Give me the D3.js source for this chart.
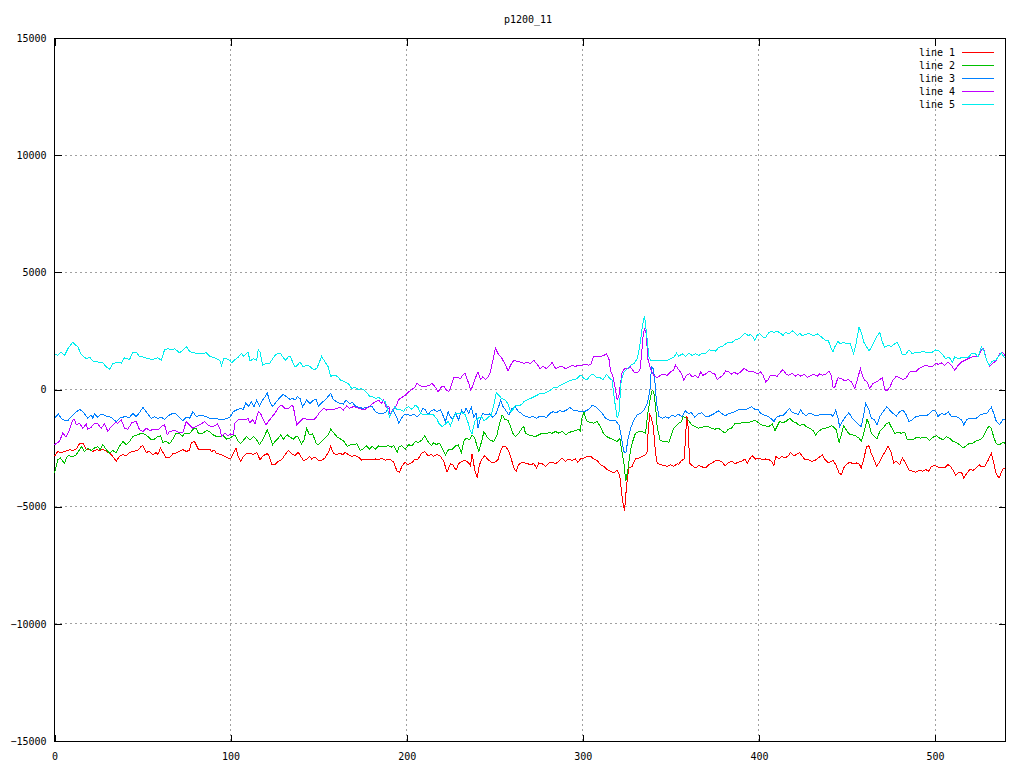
<!DOCTYPE html>
<html><head><meta charset="utf-8">
<script src="https://cdn.jsdelivr.net/npm/d3@7/dist/d3.min.js"></script>
<style>body{margin:0;background:#fff}</style></head>
<body>
<svg id="c" width="1024" height="768"></svg>
<script>
const chartTitle = "p1200_11";
const seriesNames = ["line 1", "line 2", "line 3", "line 4", "line 5"];
const seriesColors = ["#ff0000", "#00c000", "#0080ff", "#c000ff", "#00eeee"];
const xTicks = [0, 100, 200, 300, 400, 500];
const yTicks = [-15000, -10000, -5000, 0, 5000, 10000, 15000];

const line1 = [[0,-2852],[1.9,-2640],[3.8,-2711],[5.7,-2640],[8.5,-2570],[10.4,-2598],[12.3,-2542],[14.2,-2316],[16.1,-2287],[18,-2542],[19.9,-2570],[21.8,-2640],[23.7,-2570],[25.6,-2598],[27.5,-2542],[29.4,-2640],[31.3,-2711],[33.1,-2852],[35,-3064],[36.9,-2852],[38.8,-2782],[40.7,-2824],[42.6,-2683],[44.5,-2640],[47.3,-2598],[49.2,-2429],[50.2,-2400],[52.1,-2683],[54,-2640],[55.9,-2782],[57.8,-2683],[58.7,-2782],[60.2,-2499],[61.6,-2683],[63.4,-2923],[65.3,-2923],[67.2,-2739],[69.1,-2711],[71,-2640],[72.9,-2570],[74.8,-2640],[76.7,-2598],[77.7,-2259],[79.5,-2217],[81.8,-2570],[84.3,-2570],[86.2,-2570],[88.1,-2542],[89,-2640],[90.9,-2598],
[91.7,-2711],[93,-2739],[94.9,-2782],[96.8,-2852],[98.7,-2923],[100,-2965],[101.5,-2739],[103,-2499],[104.4,-2880],[105.7,-3064],[107.2,-2852],[109.1,-2739],[111,-2711],[112.9,-2782],[114.8,-2683],[116.7,-2993],[118.2,-2852],[119.5,-2782],[120.8,-2739],[122,-2852],[123.3,-3205],[125.2,-3205],[127.1,-3064],[129,-2993],[130.9,-2782],[132.8,-2598],[134.7,-2739],[136.6,-2824],[138.4,-2683],[139.8,-2852],[141.3,-3022],[143.2,-2993],[144.7,-2852],[146,-2965],[147.9,-2880],[149.8,-3022],[151.7,-3022],[153.6,-2923],[155.5,-2683],[156.8,-2429],[158.3,-2711],[160.2,-2782],[162.1,-2711],[163.6,-2782],[165,-2683],[166.9,-2782],[168.8,-2852],[170.6,-2824],[172.5,-2880],[174.4,-3022],[176.3,-2965],[178.2,-2993],
[180.3,-2993],[182.2,-2965],[184.1,-2993],[186,-2937],[187.9,-3022],[189.4,-2965],[190.7,-2993],[192.6,-3106],[194.5,-3488],[195.8,-3530],[197.3,-3276],[198.9,-3106],[200.8,-3205],[202.7,-3135],[204.5,-2993],[206.4,-2965],[208.3,-2739],[210.2,-2640],[212.1,-2824],[214,-2782],[215.3,-2852],[217.2,-2782],[219.1,-2852],[221,-3064],[222.9,-3530],[224.8,-3163],[226.1,-3205],[228,-3445],[229.5,-3163],[231.4,-3064],[233.3,-3022],[234.8,-3106],[236.2,-3248],[237.1,-2739],[238.6,-3417],[240,-3770],[241.3,-3205],[242.8,-2965],[244.3,-2824],[246.2,-2993],[248.1,-3106],[250,-3106],[251.9,-2993],[253.2,-2640],[254.5,-2429],[256.1,-2429],[258,-2640],[259.5,-2993],[260.8,-3346],[262.1,-3488],[263.6,-3205],[265.5,-3106],
[268.4,-3163],[270.3,-3205],[272.2,-3163],[273.7,-3346],[275,-3135],[276.9,-3163],[278.8,-3276],[280.7,-3135],[282.6,-3106],[284.5,-3163],[286.4,-3064],[288.3,-2923],[290.2,-3064],[292,-2965],[293.9,-3022],[295.8,-2965],[297.2,-3106],[298.7,-2965],[300.6,-2923],[302.5,-2852],[304.4,-2852],[306.2,-2965],[308.1,-3022],[310,-3205],[311.9,-3276],[313.8,-3417],[315.7,-3488],[317.6,-3558],[319.5,-3445],[321,-3699],[322,-4405],[322.9,-4900],[323.7,-5182],[324.8,-4123],[326.1,-3346],[328,-3276],[329.9,-2965],[331.8,-2923],[333.7,-2852],[335.6,-2782],[336.6,-2640],[337.1,-1723],[338,-1087],[339,-1228],[340,-1581],[341.3,-2711],[342.2,-3135],[344.1,-3205],[346,-3248],[347.9,-3276],[349.8,-3205],[351.7,-3276],[353.6,-3163],
[354.5,-3205],[356,-3022],[357.4,-2993],[358.3,-2146],[358.9,-1158],[359.5,-1228],[360.2,-2287],[360.6,-3135],[362.1,-3248],[364,-3346],[365.9,-3248],[367.8,-3304],[369.7,-3346],[371.6,-3205],[373.5,-3135],[375.4,-3022],[377.3,-3022],[379.2,-3106],[380.7,-3248],[382.6,-3135],[384.5,-3064],[386.4,-3163],[388.3,-3106],[390.2,-3064],[392,-2965],[393.4,-3163],[394.7,-2965],[396.2,-2824],[398.1,-2965],[400,-2923],[401.9,-2993],[403.8,-2965],[405.7,-2993],[407.6,-3106],[408.5,-3248],[409.5,-2852],[411.4,-2965],[412.9,-2852],[414.8,-2923],[416.7,-2824],[418,-2683],[419.9,-2824],[421.2,-2782],[423.1,-2683],[424.6,-2852],[426.1,-2993],[428,-2993],[429.9,-3064],[431.8,-3022],[433.7,-2923],[436,-2782],[437.5,-2993],[439.4,-3135],[441.3,-3064],
[442,-3022],[443.6,-3205],[445.5,-3558],[446.8,-3629],[448.1,-3346],[449.6,-3205],[451.5,-3106],[453.4,-3163],[455.3,-3135],[456.8,-3163],[458.1,-3346],[459.5,-2993],[461,-2457],[462.5,-2400],[463.8,-2739],[465.2,-2965],[466.7,-3276],[468.2,-3135],[469.5,-2923],[471.4,-2683],[473.3,-2429],[475.2,-2711],[476.5,-3135],[478,-3064],[479.9,-3205],[481.4,-2923],[483.3,-3135],[485.2,-3445],[487.1,-3488],[489,-3530],[490.9,-3445],[492.8,-3488],[494.7,-3417],[496.6,-3488],[497.9,-3276],[499.8,-3248],[501.7,-3304],[503.6,-3346],[505.5,-3346],[507.4,-3205],[508.7,-3276],[510.2,-3445],[511.7,-3671],[513.1,-3558],[515,-3530],[516.3,-3770],[518.2,-3558],[519.7,-3417],[521.6,-3445],[523.5,-3346],[525,-3205],[526.3,-3304],[528.2,-3276],[530.1,-3022],[532,-2711],[533.3,-3135],[534.8,-3629],[536.4,-3770],[538.3,-3417],[539.6,-3346]];

const line2 = [[0,-3558],[1.9,-2993],[3.4,-2923],[4.7,-3064],[5.7,-3135],[7.2,-2852],[8.5,-2824],[10.4,-2880],[12.3,-2782],[14.2,-2570],[15.2,-2429],[17,-2640],[18.9,-2499],[20.8,-2598],[22.7,-2499],[24.6,-2429],[25.9,-2570],[27.5,-2358],[29.4,-2570],[31.3,-2711],[33.1,-2598],[35,-2711],[36.9,-2429],[38.8,-2217],[40.7,-2358],[42.6,-2217],[44.5,-2005],[47.3,-1934],[49.2,-1864],[51.1,-1906],[53,-2005],[54.9,-2146],[56.8,-2118],[58.7,-2005],[60.2,-1977],[61.6,-2259],[63.4,-2217],[65.3,-2316],[67.2,-2118],[69.1,-1864],[71,-1864],[72.5,-2005],[73.9,-1864],[76.7,-1892],[78.6,-1694],[80.5,-1652],[81.8,-1892],[84.3,-1864],[86.2,-1751],[88.1,-1793],[90,-1934],
[92,-2005],[93.9,-2005],[95.8,-1977],[97.7,-2118],[99.6,-2076],[102.5,-1934],[104.4,-2217],[105.7,-2316],[107.2,-2175],[109.1,-2005],[111,-2146],[112.9,-2005],[114.8,-2146],[116.3,-2358],[118.2,-2146],[119.5,-1934],[120.8,-1723],[122.3,-2005],[123.9,-2358],[125.2,-2217],[127.1,-2076],[128.4,-1934],[129.9,-2118],[132.2,-1934],[133.7,-2033],[135.6,-2118],[137.1,-2005],[138.4,-2033],[140.3,-2316],[141.7,-2146],[143.2,-1652],[144.7,-1934],[146.6,-1892],[148.5,-2287],[149.8,-2358],[151.7,-2217],[153.6,-2076],[155.5,-1934],[156.8,-1694],[158.7,-1864],[160.6,-2033],[162.5,-2118],[164.4,-2217],[166.3,-2429],[168.2,-2358],[170.1,-2358],[171.6,-2316],[173.5,-2598],[175,-2542],[177.3,-2400],[178.8,-2542],
[180.3,-2429],[182.2,-2542],[184.1,-2400],[186,-2457],[187.9,-2429],[189.8,-2400],[191.3,-2457],[192.6,-2400],[194.5,-2683],[195.8,-2429],[197.3,-2400],[199.2,-2542],[201.1,-2358],[203,-2400],[204.9,-2217],[206.8,-2259],[208.7,-2146],[210.2,-1977],[212.1,-2217],[214,-2400],[215.3,-2259],[216.7,-2358],[218.6,-2287],[220.5,-2570],[222,-2782],[223.9,-2542],[225.8,-2570],[227.3,-2429],[229.2,-2358],[231.1,-2711],[232.4,-2217],[233.7,-2076],[235.6,-2146],[237.1,-1934],[238.6,-2076],[240,-2429],[240.9,-2640],[242.8,-2146],[243.8,-1793],[245.6,-2033],[247,-2146],[249.4,-2217],[251.3,-1934],[252.7,-1440],[254.2,-1087],[255.7,-1271],[257.6,-1327],[258.9,-1581],[260.2,-1864],[261.7,-2005],[263.6,-1864],[265.5,-1652],
[266.5,-1581],[267.4,-1864],[269.3,-1934],[271.2,-1977],[273.1,-2005],[275,-1934],[276.9,-1864],[278.8,-1892],[280.7,-1836],[282.6,-1864],[284.5,-1793],[286.4,-1864],[288.3,-1793],[290.2,-1934],[292,-1836],[293.9,-1793],[295.8,-1751],[297.7,-1694],[298.7,-1793],[299.2,-1299],[300.6,-946],[301.5,-1228],[302.5,-1370],[304.4,-1412],[306.2,-1440],[308.1,-1370],[310,-1581],[311.6,-1864],[313.4,-2005],[315.3,-2076],[317.6,-2146],[319.5,-2217],[321,-2076],[322,-2570],[323.3,-3135],[324.4,-3911],[325.6,-3417],[327.1,-2570],[328.6,-2146],[329.9,-1864],[331.8,-1793],[333.7,-1793],[335.6,-1864],[336.9,-1017],[338.4,-311],[339.4,-28],[340.3,-99],[341.3,-734],[342.2,-1581],[343.8,-2146],[345.6,-2217],[347.5,-2217],[348.9,-2259],[350.2,-1934],[351.7,-1652],[353.6,-1511],
[354.5,-1440],[356,-1370],[356.8,-1158],[358.3,-1186],[360.2,-1327],[361.7,-1511],[363.6,-1581],[365.5,-1652],[367.4,-1610],[369.3,-1581],[371.2,-1581],[373.1,-1652],[375,-1694],[376.9,-1652],[378.8,-1751],[380.7,-1864],[382.6,-1694],[384.5,-1652],[386.4,-1440],[388.3,-1468],[390.2,-1412],[392,-1412],[393.9,-1412],[395.8,-1370],[397.7,-1299],[399.6,-1412],[401.5,-1511],[403.4,-1553],[405.7,-1581],[407.6,-1468],[409.1,-1751],[410.4,-1553],[411.7,-1370],[413.6,-1412],[415.2,-1370],[417.4,-1228],[419.3,-1370],[421.2,-1412],[423.1,-1553],[425,-1468],[426.9,-1581],[428.8,-1652],[430.7,-1751],[432.2,-1934],[433.7,-1793],[435.6,-1694],[437.5,-1652],[439.4,-1610],[441.3,-1553],
[442,-1581],[443.9,-1723],[445.5,-2259],[446.8,-1934],[448.1,-1553],[449.6,-1723],[451.1,-1892],[453,-1934],[454.9,-1977],[456.8,-2076],[458.1,-2217],[459.5,-1864],[461.4,-1271],[462.5,-1468],[463.8,-1864],[465.7,-2005],[467,-2118],[468.6,-1793],[470.5,-1652],[472.3,-1468],[473.9,-1412],[475.2,-1610],[477.1,-1864],[479,-1836],[480.9,-1864],[482.8,-1836],[484.1,-2118],[486,-2146],[487.9,-2118],[489.8,-2033],[491.7,-2076],[493.6,-2033],[495.5,-2076],[497,-2175],[498.9,-2033],[500.8,-1977],[502.7,-2076],[504.5,-2146],[506.4,-2005],[508.3,-2076],[510.2,-2217],[512.1,-2259],[514,-2358],[515.9,-2499],[517.8,-2400],[519.7,-2287],[521.6,-2287],[523.5,-2175],[525.4,-2146],[527.3,-2033],[529.2,-1723],[530.7,-1553],[532,-1652],[533.3,-2033],[534.8,-2316],[536.7,-2358],[538.3,-2259],[539.6,-2287]];

const line3 = [[0,-1228],[2.3,-1045],[3.8,-1228],[5.7,-1327],[7.6,-1327],[9.5,-1158],[11.4,-1017],[14.2,-847],[16.1,-946],[18.9,-1228],[20.8,-1087],[21.8,-1228],[22.7,-1045],[24.6,-1186],[26.5,-1045],[29.4,-1130],[32.2,-1186],[35,-1370],[36.9,-1228],[39.8,-1158],[42.6,-1186],[44.5,-1017],[46.4,-1158],[48.3,-988],[50.2,-762],[52.1,-946],[54.9,-1228],[56.8,-1158],[58.7,-1228],[60.6,-1186],[62.5,-1271],[65.3,-1087],[67.2,-1017],[69.1,-1045],[71,-1186],[72.9,-1327],[74.8,-1186],[76.7,-1228],[78.6,-946],[80.5,-1158],[83.3,-1087],[86.2,-1158],[88.1,-1228],[90.9,-1257],
[92,-1228],[93.9,-1299],[95.8,-1271],[97.7,-1243],[99.6,-1186],[101.5,-946],[103.4,-875],[105.3,-805],[107.2,-847],[108.7,-565],[110,-734],[111.9,-522],[113.3,-734],[114.8,-452],[116.3,-706],[118.2,-452],[119.5,-311],[120.8,-141],[122.3,-522],[123.9,-734],[125.2,-593],[127.1,-424],[128.4,-311],[129.9,-212],[131.8,-311],[133.7,-424],[135.2,-381],[136.6,-452],[137.9,-311],[139.4,-381],[140.9,-734],[143.2,-452],[145.1,-593],[147,-452],[148.5,-424],[149.8,-706],[151.7,-565],[153.6,-452],[155.5,-282],[156.8,-169],[158.3,-424],[160.2,-522],[162.1,-593],[164,-621],[165.5,-452],[167.4,-593],[169.3,-565],[171.2,-734],[173.1,-762],[175,-805],[177.3,-762],[179.2,-706],
[180.3,-706],[182.2,-946],[184.1,-1017],[186,-1017],[187.9,-988],[189.8,-805],[190.7,-1087],[192,-875],[193.2,-1017],[194.5,-1228],[195.5,-1440],[197,-1228],[198.3,-1087],[200.2,-1045],[202.1,-1130],[204,-1045],[205.9,-1158],[207.8,-1017],[209.1,-805],[210.6,-875],[212.1,-1087],[213.4,-946],[215.3,-847],[217.2,-946],[219.1,-875],[220.5,-1087],[222,-1370],[223.5,-946],[224.8,-1158],[226.1,-1271],[227.7,-1017],[229.5,-1299],[231.1,-875],[232.4,-1017],[233.7,-805],[235.2,-1017],[236.7,-762],[238.1,-1186],[239.4,-1017],[240.5,-1652],[241.9,-1228],[243.2,-1017],[245.1,-1087],[247,-1045],[248.9,-1186],[250.8,-1017],[252.3,-706],[253.4,-452],[254.5,-706],[256.1,-875],[258,-1087],[259.8,-805],[261.7,-734],[263.3,-946],[265.2,-1017],
[266.1,-1087],[268,-1158],[269.9,-1186],[271.8,-1158],[273.7,-1228],[275.6,-1130],[277.5,-1158],[279.4,-1186],[281.3,-1017],[283.1,-946],[285,-988],[286.9,-904],[288.8,-946],[290.7,-875],[292.6,-762],[294.5,-875],[296.4,-904],[298.3,-946],[300.2,-946],[302.1,-904],[304,-805],[305.3,-664],[307.2,-734],[309.1,-875],[311,-1017],[312.9,-1228],[314.8,-1299],[316.7,-1327],[318.6,-1327],[320.5,-1511],[321.8,-2005],[323.3,-2640],[324.4,-2711],[325.6,-2146],[327.1,-1652],[329,-1299],[330.9,-1087],[332.8,-1017],[334.7,-875],[336.6,-593],[338.1,-28],[339,960],[340,890],[340.7,537],[341.9,-593],[343.2,-1158],[345.1,-1228],[347,-1158],[348.9,-1228],[350.8,-1087],[352.7,-1158],[354,-1045],
[356.4,-1158],[358,-904],[359.8,-1017],[361.7,-988],[363.6,-1186],[365.5,-1045],[367.4,-988],[369.3,-1130],[371.2,-1158],[373.1,-1087],[375,-1017],[376.9,-904],[378.8,-1017],[380.7,-1130],[382.6,-1045],[384.5,-988],[386.4,-946],[388.3,-875],[390.2,-847],[392,-875],[393.9,-805],[395.8,-734],[397.7,-847],[399.6,-847],[400.9,-1017],[402.8,-1087],[404.7,-1130],[406.6,-1228],[408.5,-1370],[409.8,-1186],[411.7,-1130],[413.6,-1130],[415.2,-988],[417.4,-805],[418.9,-988],[420.8,-1017],[422.3,-1087],[423.7,-875],[425,-1017],[426.9,-1130],[428.4,-1017],[430.3,-1045],[432.2,-1130],[434.1,-1087],[436,-1087],[437.9,-1087],[439.4,-1045],[441.3,-1087],
[442,-1158],[443.6,-875],[444.9,-1228],[445.8,-1581],[447.7,-1327],[449.2,-1158],[451.1,-988],[453,-1228],[454.9,-1370],[456.8,-1511],[458.1,-1581],[459.1,-1228],[460.6,-593],[462.5,-875],[463.8,-1228],[465.7,-1299],[467,-1511],[468.6,-1158],[470.5,-946],[472.7,-734],[474.2,-875],[476.1,-1017],[478,-1130],[479.9,-946],[481.8,-875],[483.7,-1087],[485.2,-1370],[487.1,-1299],[489,-1158],[490.9,-1130],[492.8,-1130],[495.1,-1130],[497,-1017],[498.9,-875],[500.4,-946],[501.7,-1158],[503.6,-1017],[505.5,-1087],[507.4,-946],[509.3,-1158],[511.2,-1158],[513.1,-1186],[515,-1299],[516.3,-1511],[517.8,-1299],[519.7,-1228],[521.6,-1228],[523.5,-1228],[525.4,-1087],[527.3,-1045],[529.2,-1045],[530.7,-875],[532,-762],[533.3,-1017],[534.8,-1370],[536.7,-1511],[538.3,-1299],[539.6,-1271]];

const line4 = [[0,-2358],[2.8,-2217],[4.7,-1864],[6.6,-2033],[8.5,-1723],[10.4,-1299],[11.4,-1271],[12.3,-1511],[14.2,-1440],[16.1,-1652],[18,-1468],[18.9,-1694],[20.8,-1610],[22.7,-1440],[24.6,-1468],[26.5,-1652],[28.4,-1468],[30.3,-1793],[32.2,-1581],[34.5,-1412],[36,-1440],[37.9,-1299],[39.8,-1652],[41.7,-1694],[43.9,-1412],[46.4,-1370],[48.3,-1723],[50.2,-1793],[52.1,-1652],[54,-1751],[56.8,-1694],[58.7,-1723],[60.6,-1581],[62.5,-1511],[64,-1934],[65.3,-1793],[68.2,-1751],[71,-1836],[72.9,-1836],[74.8,-1370],[76.7,-1511],[78.6,-1652],[80.5,-1581],[83.3,-1468],[85.2,-1370],[87.1,-1511],[89,-1581],[90.9,-1553],
[92.4,-1468],[93.9,-1652],[94.9,-2005],[96.8,-1864],[98.7,-1977],[100,-1892],[101.5,-1934],[102.5,-1440],[104.4,-1271],[106.3,-1271],[108.1,-1299],[110,-1243],[111,-1440],[112.3,-1271],[113.8,-1468],[115.7,-946],[117,-1017],[118.6,-1299],[120.1,-1511],[121.4,-1370],[123.3,-1186],[125.2,-1017],[127.1,-762],[129,-664],[130.9,-805],[132.8,-805],[134.7,-664],[135.6,-734],[137.5,-1511],[139.4,-1370],[141.3,-1228],[143.2,-1271],[145.1,-1299],[147,-1299],[148.9,-1158],[150.8,-946],[152.7,-805],[154.5,-875],[156.4,-847],[158.3,-875],[160.2,-805],[162.1,-762],[164,-875],[165.9,-706],[167.4,-805],[169.7,-734],[171.6,-762],[173.5,-819],[175.4,-875],[177.3,-805],[179.2,-706],
[180.3,-621],[182.2,-522],[184.1,-452],[185.6,-593],[186.9,-452],[188.3,-762],[189.8,-706],[190.7,-1087],[192,-875],[193.6,-762],[195.5,-424],[197.3,-339],[199.2,-240],[201.1,-99],[203,0],[204.5,85],[205.9,282],[207.2,184],[209.1,113],[211,141],[212.9,184],[214.4,254],[215.9,141],[217.8,-99],[219.7,113],[221,141],[222.3,0],[223.9,-99],[225.4,184],[226.7,508],[228.6,537],[230.5,466],[231.8,607],[233,706],[234.3,424],[235.2,282],[236.2,-28],[237.1,85],[238.6,424],[240.5,748],[241.9,424],[243.2,537],[244.7,424],[246.2,537],[247.5,748],[248.9,1243],[250.4,1765],[251.9,1525],[254.2,1313],[256.1,1031],[257.6,791],[258.9,1031],[260.8,1243],[262.7,1200],[264.6,1172],[265.9,1130],
[266.5,1101],[268.4,1172],[270.3,1101],[272.2,1243],[274.1,1073],[275.6,890],[277.5,988],[279.4,890],[281.3,1031],[282.6,1172],[284.5,890],[286.4,960],[288.3,988],[290.2,890],[292,960],[293.9,1031],[295.8,988],[297.7,1031],[299.6,1031],[301.5,1073],[303.4,1031],[304.7,1101],[305.9,1384],[307.8,1412],[310,1412],[311.9,1454],[313.4,1525],[314.8,1313],[315.7,819],[317.2,537],[318.6,-28],[319.5,-452],[320.5,-240],[321.4,254],[322.3,748],[323.7,890],[325.2,890],[327.1,960],[329,748],[330.9,706],[332.4,819],[333.4,1525],[334.3,2372],[335,2584],[336,2372],[336.9,1313],[338.4,890],[340.3,607],[342.2,508],[344.1,607],[346,650],[347.9,607],[349.8,748],[351.3,819],[352.7,1031],[354,890],
[356,678],[357.4,395],[358.7,607],[360.6,678],[362.1,537],[363.6,607],[365.5,508],[366.9,748],[368.2,607],[370.1,678],[371.6,791],[373.5,706],[375,650],[376.3,424],[377.7,508],[379.5,607],[381.1,791],[383,748],[384.5,650],[385.8,748],[387.7,650],[389.6,748],[391.5,890],[392.8,847],[394.3,748],[396.2,791],[398.1,706],[399.6,678],[400.9,748],[402.3,607],[403.8,325],[405.3,424],[406.6,607],[408.5,607],[410.4,565],[412.3,748],[413.6,847],[415.5,650],[417,607],[418.9,706],[420.5,565],[422.3,650],[423.7,565],[425.6,650],[427.5,508],[429.4,607],[431.3,650],[433.1,565],[434.5,678],[436,607],[437.9,650],[439.8,791],[441.1,607],[442,113],[443,85],
[444.9,508],[446.8,466],[448.7,367],[450.6,424],[452.5,325],[454.4,42],[456.3,537],[457.6,890],[458.7,607],[460,395],[461.4,325],[462.9,42],[464.8,254],[466.7,325],[468.6,424],[470.1,508],[471.4,0],[472.7,-56],[474.2,85],[476.1,395],[478,565],[479.9,508],[481.8,424],[483.7,508],[485.6,748],[487.5,791],[489,748],[490.9,890],[492.8,960],[494.7,1031],[496.6,988],[498.5,988],[500.4,1130],[501.7,1073],[503.6,1130],[505.5,1031],[507.4,1172],[509.3,1031],[511.2,819],[513.1,1031],[515,1172],[516.9,1243],[518.8,1313],[520.6,1384],[522.5,1412],[524.4,1384],[526.3,1694],[527.7,1737],[529.2,1243],[531.1,988],[533,1130],[534.8,1243],[536.7,1525],[538.3,1596],[539.6,1454]];

const line5 = [[0,1525],[1.9,1454],[3.8,1596],[5.7,1454],[7.6,1737],[10.4,2019],[13.3,1807],[15.2,1497],[18,1313],[19.9,1384],[21.8,1214],[24.6,1172],[27.5,1144],[29.4,960],[31.3,861],[33.1,1101],[36,1172],[37.9,1130],[39.8,1356],[42.6,1271],[44.5,1596],[46.4,1596],[48.3,1412],[50.2,1384],[53,1313],[55.9,1285],[58.7,1356],[60.6,1243],[62.5,1694],[64.4,1737],[66.3,1694],[68.2,1737],[71,1567],[72.9,1666],[74.8,1836],[76.7,1638],[78.6,1567],[80.5,1553],[83.3,1525],[86.2,1567],[88.1,1426],[90.9,1356],
[92,1313],[93.9,1243],[94.9,1031],[96.2,1313],[97.7,1313],[99.6,1243],[100.6,1144],[102.5,1271],[104.4,1384],[106.3,1553],[107.2,1412],[109.1,1553],[110,1567],[111,1214],[112.9,1313],[114.8,1243],[115.7,1694],[116.7,1596],[118.2,1031],[120.1,1101],[122,1101],[123.3,1243],[125.2,1454],[127.1,1553],[128.4,1525],[129.9,1356],[131.4,1243],[132.8,1412],[134.1,1384],[135.2,1172],[136.6,960],[137.9,1031],[139.4,1172],[141.3,960],[143.2,1031],[145.1,988],[147,847],[148.9,890],[150.4,1172],[151.7,1412],[153.6,1172],[155.5,960],[156.8,565],[158.7,607],[160.6,565],[162.5,395],[165,325],[166.9,254],[168.8,42],[170.6,85],[172.5,0],[174.4,42],[176.3,-56],[177.7,-169],[179.2,-311],
[180.3,-282],[182.2,-381],[184.1,-339],[186,-452],[187.9,-522],[188.8,-762],[190.2,-1158],[191.7,-946],[193.2,-734],[194.5,-875],[196.4,-847],[198.3,-946],[199.2,-805],[201.1,-734],[203,-847],[204.9,-664],[206.4,-762],[207.8,-1017],[209.7,-1087],[211.6,-1045],[213.4,-1087],[215.3,-1087],[217.2,-1271],[218.2,-1440],[220.1,-1581],[222,-1468],[223.5,-1370],[224.8,-1553],[226.1,-1299],[227.7,-1045],[229.5,-1017],[231.4,-988],[233.3,-1087],[234.8,-1412],[236.2,-1793],[237.1,-1892],[238.6,-1370],[240.5,-1228],[242.4,-1158],[243.8,-1327],[245.1,-1271],[246.6,-1158],[248.1,-1087],[249.4,-664],[250.8,-141],[252.3,-240],[253.8,-381],[255.7,-424],[257.6,-621],[258.9,-946],[260.2,-875],[261.7,-664],[263.6,-706],[265.5,-621],
[266.5,-522],[268.4,-452],[270.3,-381],[272.2,-311],[274.1,-240],[275.9,-169],[277.8,-169],[279.7,-99],[281.6,-28],[283.5,85],[285.4,85],[287.3,184],[289.2,254],[291.1,325],[293,395],[294.9,424],[296.8,466],[297.7,565],[299.1,607],[300.6,466],[302.5,424],[304.4,607],[305.9,650],[307.8,508],[309.7,508],[311.6,424],[313.4,650],[315.3,466],[316.7,395],[317.6,-240],[318.8,-875],[319.5,-1228],[320.5,-1017],[321.8,395],[323.3,748],[325.2,890],[327.1,1031],[329,1101],[330.9,1313],[332.4,1878],[333.7,2655],[335,3149],[336.2,2372],[337.5,1384],[338.8,1214],[340.3,1243],[342.2,1243],[344.1,1243],[346,1243],[347.9,1243],[349.8,1313],[351.7,1384],[353.2,1553],[354.5,1412],
[356.4,1525],[358.3,1412],[360.2,1553],[362.1,1454],[364,1525],[365.9,1454],[367.8,1553],[369.7,1525],[371.6,1694],[373.5,1666],[375.4,1638],[377.3,1807],[379.2,1836],[381.1,1949],[383,2019],[384.8,2019],[386.7,2118],[388.6,2160],[390.5,2302],[392,2400],[393.9,2302],[395.3,2344],[396.6,2231],[397.7,2090],[399.1,2344],[400.4,2372],[402.3,2231],[403.8,2231],[405.3,2400],[406.6,2485],[408.5,2443],[410.4,2485],[412.3,2400],[413.6,2302],[415.2,2443],[417,2372],[418.9,2513],[420.5,2400],[421.8,2302],[423.1,2400],[424.6,2302],[426.5,2344],[428,2400],[429.4,2344],[431.3,2302],[433.1,2372],[434.5,2302],[436,2203],[437.9,2090],[439.4,2090],[440.7,1807],[442,1596],
[443,1807],[444.9,2062],[446.2,1949],[448.1,2019],[450,1949],[451.9,1949],[453.8,1525],[455.3,2019],[456.8,2655],[458.1,2443],[459.5,2019],[461,1836],[462.5,1638],[464.4,1878],[466.7,2231],[468.6,2443],[470.1,2019],[471.4,1807],[473.3,1878],[475.2,1836],[477.1,1949],[478.4,2019],[479.9,1807],[481.4,1497],[483.3,1497],[485.2,1694],[487.1,1525],[489,1596],[490.9,1553],[492.8,1638],[494.7,1596],[496.6,1553],[498.5,1596],[500.4,1694],[502.3,1638],[504.2,1497],[506.1,1313],[508,1384],[509.8,1172],[511.2,1384],[513.1,1313],[515,1356],[516.9,1356],[518.8,1356],[520.6,1525],[522.5,1553],[524.4,1384],[526.3,1807],[527.7,1666],[529.2,1271],[530.7,1031],[532.6,1214],[534.5,1243],[536.4,1454],[537.7,1553],[539,1412],[539.6,1356]];

const seriesData = [line1, line2, line3, line4, line5];

const FONT = "'DejaVu Sans Mono', monospace";
const L = 54.5, R = 1005.5, T = 38.5, B = 741.5;
const svg = d3.select("#c");
svg.append("rect").attr("width", 1024).attr("height", 768).attr("fill", "#fff");

const x = d3.scaleLinear().domain([0, 540]).range([L, R]);
const y = d3.scaleLinear().domain([-15000, 15000]).range([B - 0.5, T - 0.5]);

// grid
const grid = svg.append("g").attr("stroke", "#a0a0a0").attr("stroke-width", 1)
  .attr("stroke-dasharray", "2,3").attr("shape-rendering", "crispEdges");
xTicks.filter(d => d > 0 && d < 540).forEach(d => {
  grid.append("line").attr("x1", x(d)).attr("x2", x(d)).attr("y1", T).attr("y2", B);
});
yTicks.filter(d => d > -15000 && d < 15000).forEach(d => {
  grid.append("line").attr("x1", L).attr("x2", R).attr("y1", y(d)).attr("y2", y(d));
});

// axes (ticks inside, mirrored)
function styleAxis(g) {
  g.select(".domain").remove();
  g.selectAll(".tick line").attr("stroke", "#000").attr("shape-rendering", "crispEdges");
  g.selectAll("text").attr("font-family", FONT).attr("font-size", 10).attr("fill", "#000");
}
svg.append("g").attr("transform", `translate(0,${B})`)
  .call(d3.axisBottom(x).tickValues(xTicks).tickSizeInner(-7).tickSizeOuter(0).tickPadding(11).tickFormat(d3.format("d")))
  .call(styleAxis);
svg.append("g").attr("transform", `translate(0,${T})`)
  .call(d3.axisTop(x).tickValues(xTicks).tickSizeInner(-7).tickSizeOuter(0).tickFormat(""))
  .call(styleAxis);
svg.append("g").attr("transform", `translate(${L},0)`)
  .call(d3.axisLeft(y).tickValues(yTicks).tickSizeInner(-7).tickSizeOuter(0).tickPadding(8).tickFormat(d3.format("d")))
  .call(styleAxis);
svg.append("g").attr("transform", `translate(${R},0)`)
  .call(d3.axisRight(y).tickValues(yTicks).tickSizeInner(-7).tickSizeOuter(0).tickFormat(""))
  .call(styleAxis);

// frame
svg.append("rect").attr("x", L).attr("y", T).attr("width", R - L).attr("height", B - T)
  .attr("fill", "none").attr("stroke", "#000").attr("shape-rendering", "crispEdges");

// series
const lineGen = d3.line().x(d => x(d[0])).y(d => y(d[1]));
seriesData.forEach((data, i) => {
  svg.append("path").datum(data).attr("d", lineGen)
    .attr("fill", "none").attr("stroke", seriesColors[i]).attr("stroke-width", 1)
    .attr("shape-rendering", "crispEdges");
});

// title
svg.append("text").attr("x", 528).attr("y", 23).attr("text-anchor", "middle")
  .attr("font-family", FONT).attr("font-size", 10).text(chartTitle);

// legend
const leg = svg.append("g");
seriesNames.forEach((name, i) => {
  const cy = 52 + i * 13;
  leg.append("text").attr("x", 955).attr("y", cy + 3.5).attr("text-anchor", "end")
    .attr("font-family", FONT).attr("font-size", 10).text(name);
  leg.append("line").attr("x1", 962).attr("x2", 994).attr("y1", cy + 0.5).attr("y2", cy + 0.5)
    .attr("stroke", seriesColors[i]).attr("stroke-width", 1).attr("shape-rendering", "crispEdges");
});
</script>
</body></html>
